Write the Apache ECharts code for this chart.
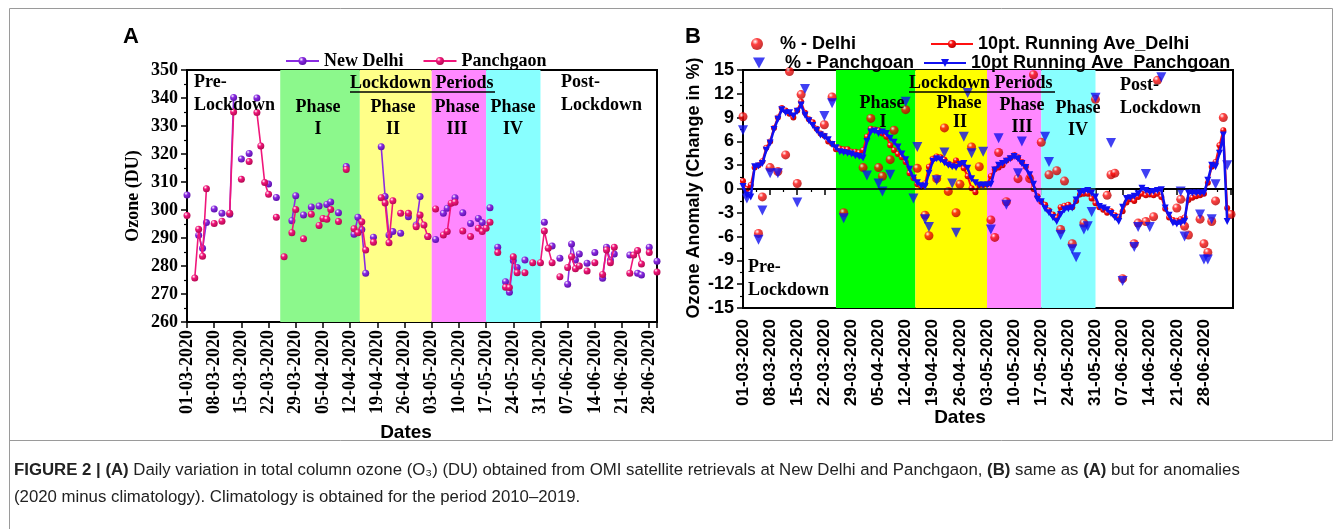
<!DOCTYPE html>
<html>
<head>
<meta charset="utf-8">
<script src="https://cdn.jsdelivr.net/npm/echarts@6/dist/echarts.min.js"></script>
<style>
html, body { margin: 0; padding: 0; background: #fff; }
#main { width: 1342px; height: 529px; }
</style>
</head>
<body>
<div id="main"></div>
<script>
// tick labels, one every 7 days from 01-03-2020 (day 0)
var dateLabels = ['01-03-2020','08-03-2020','15-03-2020','22-03-2020','29-03-2020','05-04-2020',
    '12-04-2020','19-04-2020','26-04-2020','03-05-2020','10-05-2020','17-05-2020','24-05-2020',
    '31-05-2020','07-06-2020','14-06-2020','21-06-2020','28-06-2020'];

// lockdown phases I..IV as [start day, end day]
var phases = [[24, 44.5], [44.5, 63], [63, 77], [77, 91]];

// panel A: total column ozone (DU), [day, value]
var delhiA = [[0,305.4],[3,291],[4,286.3],[5,295.5],[7,300.4],[9,298.8],[11,298.5],[12,340.2],[14,318.2],
    [16,320.2],[18,340],[21,309.3],[23,304.5],[27,296.2],[28,305.1],[30,298.2],[32,301.1],[34,301.4],
    [36,302],[37,302.9],[39,299],[41,315.5],[43,291.3],[44,297.4],[45,293],[46,277.4],[48,290.3],
    [50,322.6],[51,304.8],[52,291.1],[53,292.3],[55,291.7],[57,297.6],[59,294.6],[60,304.8],[62,290.5],
    [64,289.5],[66,298.8],[67,300.6],[69,304.4],[71,299],[73,295.2],[75,297],[76,295.5],[78,300.8],
    [80,286.7],[82,274.4],[83,270.6],[84,282],[85,279.5],[87,282.1],[92,295.6],[94,287.1],[96,282.8],
    [98,273.5],[99,287.9],[100,282.1],[101,284.3],[103,281],[105,284.8],[107,275.6],[108,286.7],
    [109,282.1],[110,284.3],[114,283.9],[116,277.4],[117,276.8],[119,286.7],[121,281.7]];
var panchA = [[0,298],[2,275.7],[3,293.1],[4,283.5],[5,307.6],[7,295.2],[9,296],[11,298.8],[12,335],
    [14,311],[16,317.3],[18,334.8],[19,322.9],[20,309.8],[21,305.6],[23,297.4],[25,283.3],[27,291.9],
    [28,300.2],[30,289.7],[32,298.5],[34,294.5],[35,297],[36,296.7],[37,300.2],[39,295.9],[41,314.5],
    [43,293.3],[44,291.9],[45,295.8],[46,285.7],[48,288.5],[50,304.4],[51,302.5],[52,288.3],[53,303.3],
    [55,298.8],[57,298.8],[59,294],[60,298.2],[61,294.6],[62,290.5],[64,300.4],[66,291.1],[67,292.3],
    [68,302.4],[69,302.8],[71,292.5],[73,290.5],[75,293.5],[76,292.3],[77,293.5],[78,295.6],[80,284.8],
    [82,272.4],[83,272.3],[84,283.3],[85,277.6],[87,277.6],[89,281.2],[91,281.2],[92,292.5],[93,286.3],
    [94,281.2],[96,276.2],[98,279.5],[99,283.3],[100,279],[101,280],[103,278.2],[105,281.2],[107,277],
    [108,285.7],[109,281.2],[110,286.7],[114,277.4],[115,283.9],[116,285.5],[117,280.7],[119,284.8],[121,277.9]];

// panel B: anomaly (%), daily values that stand off the running means, [day, value]
var delhiPct = [[0,9.1],[4,-5.6],[5,-1.0],[7,2.7],[9,2.2],[11,4.3],[12,14.8],[14,0.7],[15,11.9],[21,8.1],
    [23,11.6],[26,-3.0],[31,2.7],[33,8.9],[35,2.7],[36,1.6],[38,3.7],[39,7.4],[42,10.0],[45,2.6],[47,-3.3],
    [48,-5.9],[50,1.3],[52,7.7],[53,-0.3],[55,-3.0],[56,0.6],[59,5.3],[61,2.8],[64,-3.9],[65,-6.1],[66,4.6],
    [68,-1.6],[71,1.3],[74,1.3],[75,14.4],[77,5.9],[79,1.8],[81,2.3],[82,-5.1],[83,1.0],[85,-6.9],[88,-4.3],
    [91,11.3],[94,-0.8],[95,1.8],[96,2.0],[98,-11.3],[101,-6.9],[102,-4.3],[104,-4.1],[106,-3.5],[107,13.7],
    [112,-2.4],[113,-1.3],[114,-4.7],[115,-5.8],[118,-3.8],[119,-6.9],[120,-8.0],[121,-4.1],[122,-1.5],
    [124,9.0],[126,-3.2]];
var panchPct = [[0,7.4],[1,-1.2],[4,-6.4],[5,-2.7],[7,2.0],[9,2.0],[14,-1.7],[16,12.6],[21,9.2],[23,10.8],
    [26,-3.7],[32,1.7],[35,0.7],[36,-0.3],[38,1.8],[42,11.0],[44,-1.2],[45,5.3],[47,-3.8],[48,-4.8],[50,1.1],
    [52,4.6],[54,0.7],[55,-5.5],[57,6.6],[58,12.1],[59,4.5],[62,4.7],[64,-5.1],[66,6.4],[68,-2.0],[71,2.0],
    [72,6.0],[78,6.6],[79,3.4],[82,-5.8],[85,-7.6],[86,-8.6],[88,-5.1],[89,-4.7],[90,-2.9],[91,11.5],[95,5.8],
    [98,-11.6],[101,-7.3],[102,-4.8],[104,1.9],[105,-4.8],[108,14.1],[113,-0.3],[114,-6.0],[118,-3.2],
    [119,-8.9],[120,-8.9],[121,-3.8],[122,0.6],[125,3.0]];

// 10 point running means, one value per day from day 0
var delhiAve = [1.0,0.0,0.5,2.7,3.0,3.5,5.2,6.0,7.7,9.0,10.2,9.9,9.5,9.0,9.9,11.0,9.6,8.8,8.4,7.6,
    7.0,6.7,6.0,5.7,5.0,5.1,5.0,5.0,4.7,4.7,4.6,4.9,6.6,7.6,7.5,7.4,7.0,6.6,5.5,4.9,
    4.4,4.0,3.4,2.0,1.4,0.6,0.3,0.7,2.8,3.8,4.1,4.0,3.7,3.2,3.0,3.6,3.2,2.6,1.6,0.1,
    -0.4,0.5,0.5,0.6,1.6,2.5,2.7,3.0,3.6,3.9,4.3,4.0,3.4,2.8,1.6,0.0,-0.9,-1.6,-2.0,-2.7,
    -3.2,-3.6,-2.3,-2.1,-2.0,-2.3,-1.5,-0.7,-0.6,-0.6,-1.2,-1.8,-2.3,-2.6,-3.0,-2.8,-3.3,-3.5,-2.8,-1.7,
    -1.3,-1.5,-1.0,-0.6,-0.8,-0.7,-0.8,-0.6,-1.0,-2.5,-3.6,-3.9,-4.0,-3.8,-3.6,-1.4,-1.1,-0.9,-0.8,-0.6,
    0.8,2.8,3.4,5.5,7.4,-2.4];
var panchAve = [0.3,-0.8,-1.0,2.8,2.9,3.2,4.9,5.8,7.5,8.8,10.0,9.6,9.6,9.2,9.8,10.6,9.3,8.6,8.0,7.4,
    6.8,6.6,6.2,5.6,5.2,4.7,4.6,4.5,4.4,4.2,4.1,3.9,6.0,7.2,7.3,7.0,7.2,7.0,6.4,5.9,
    5.3,4.4,3.7,2.5,1.4,0.8,0.4,0.3,2.0,3.5,3.8,3.7,3.3,3.0,2.8,2.7,3.1,3.2,2.6,1.3,
    0.8,0.5,0.5,0.5,0.6,2.4,3.0,3.2,3.5,3.8,4.1,3.8,3.2,2.7,1.8,0.6,-1.3,-1.6,-2.5,-3.0,
    -3.6,-4.1,-3.2,-2.6,-2.5,-2.4,-1.4,-0.5,-0.3,-0.2,-0.5,-1.0,-2.2,-2.4,-2.6,-3.1,-3.6,-4.1,-2.3,-1.2,
    -1.1,-0.9,-0.6,0.1,-0.2,-0.4,-0.3,-0.2,-0.1,-2.4,-3.3,-4.3,-4.4,-4.3,-4.1,-0.5,-0.5,-0.5,-0.5,-0.5,
    1.1,3.0,2.8,4.5,6.8,-4.1];

var bandsA = ['#8CF88C', '#FFFF88', '#FF88FF', '#88FFFF'];
var bandsB = ['#00FF00', '#FFFF00', '#FF88FF', '#88FFFF'];

function withGaps(list) {
    var out = [];
    for (var i = 0; i < list.length; i++) {
        if (i > 0 && list[i][0] - list[i - 1][0] > 1) out.push([list[i - 1][0] + 1, null]);
        out.push(list[i]);
    }
    return out;
}
function daily(arr) {
    return arr.map(function (v, i) { return [i, v]; });
}
function ball(c, dark) {
    return { type: 'radial', x: 0.35, y: 0.3, r: 0.75,
        colorStops: [{ offset: 0, color: '#ffffff' }, { offset: 0.35, color: c }, { offset: 1, color: dark }] };
}
function areas(colors) {
    return phases.map(function (p, i) {
        return [{ xAxis: p[0], itemStyle: { color: colors[i] } }, { xAxis: p[1] }];
    });
}

var serif = '"Liberation Serif", "Times New Roman", serif';
var sans = '"Liberation Sans", Arial, sans-serif';
var downTri = 'path://M0,0 L10,0 L5,9 Z';

function ts(family, size, extra) {
    var s = { fontFamily: family, fontSize: size, fontWeight: 'bold', color: '#000' };
    for (var k in extra) s[k] = extra[k];
    return s;
}

function xAxisOf(grid, max, minor, family, size, margin) {
    return {
        type: 'value', gridIndex: grid, min: 0, max: max, interval: 7,
        axisLine: { lineStyle: { color: '#000', width: 2 } },
        axisTick: { length: 6, lineStyle: { color: '#000', width: 1.5 } },
        minorTick: { show: minor, splitNumber: 2, length: 3, lineStyle: { color: '#000', width: 1.2 } },
        splitLine: { show: false },
        axisLabel: ts(family, size, {
            rotate: 90, margin: margin,
            formatter: function (v) { return v % 7 === 0 && dateLabels[v / 7] ? dateLabels[v / 7] : ''; }
        })
    };
}
function yAxisOf(grid, min, max, step, family, size, margin) {
    return {
        type: 'value', gridIndex: grid, min: min, max: max, interval: step,
        axisLine: { show: true, lineStyle: { color: '#000', width: 2 } },
        axisTick: { show: true, length: 6, lineStyle: { color: '#000', width: 1.5 } },
        minorTick: { show: true, splitNumber: 2, length: 3, lineStyle: { color: '#000', width: 1.2 } },
        splitLine: { show: false },
        axisLabel: ts(family, size, { margin: margin })
    };
}

function txt(t, x, y, font, align, rot) {
    return { type: 'text', x: x, y: y, rotation: rot || 0, silent: true, z: 20,
        style: { text: t, font: font, fill: '#000', align: align || 'center', verticalAlign: 'middle' } };
}
function uline(x1, x2, y) {
    return { type: 'line', silent: true, z: 20, shape: { x1: x1, y1: y, x2: x2, y2: y },
        style: { stroke: '#000', lineWidth: 1.5 } };
}

var fA = 'bold 18px ' + serif;
var fB = 'bold 18px ' + sans;

var option = {
    animation: false,
    backgroundColor: '#fff',
    grid: [
        { left: 187, top: 70, width: 470, height: 252, show: true, borderColor: '#000', borderWidth: 2, backgroundColor: 'transparent' },
        { left: 743, top: 70, width: 490, height: 238, show: true, borderColor: '#000', borderWidth: 2, backgroundColor: 'transparent' }
    ],
    xAxis: [
        xAxisOf(0, 121, false, serif, 18, 8),
        xAxisOf(1, 126.5, true, sans, 17, 11)
    ],
    yAxis: [
        yAxisOf(0, 260, 350, 10, serif, 18, 9),
        yAxisOf(1, -15, 15, 3, sans, 18, 9)
    ],
    legend: [
        { data: ['New Delhi', 'Panchgaon'], left: 280, top: 47, itemWidth: 33, itemHeight: 10, itemGap: 19,
          textStyle: ts(serif, 18) },
        { data: ['% - Delhi'], left: 746, top: 30, itemWidth: 12, itemHeight: 12,
          textStyle: ts(sans, 18, { padding: [0, 0, 0, 12] }) },
        { data: ['10pt. Running Ave_Delhi'], left: 925, top: 30, itemWidth: 42, itemHeight: 10,
          textStyle: ts(sans, 18) },
        { data: [{ name: '% - Panchgoan', icon: downTri }], left: 748, top: 49, itemWidth: 12, itemHeight: 11,
          textStyle: ts(sans, 18, { padding: [0, 0, 0, 15] }) },
        { data: ['10pt Running Ave_Panchgoan'], left: 918, top: 49, itemWidth: 42, itemHeight: 10,
          textStyle: ts(sans, 18) }
    ],
    series: [
        { type: 'line', xAxisIndex: 0, yAxisIndex: 0, data: [], silent: true, z: 1,
          markArea: { silent: true, data: areas(bandsA) } },
        { type: 'line', xAxisIndex: 1, yAxisIndex: 1, data: [], silent: true, z: 1,
          markArea: { silent: true, data: areas(bandsB) },
          markLine: { silent: true, symbol: ['none', 'none'], label: { show: false },
              lineStyle: { color: '#000', width: 1.5, type: 'solid' }, data: [{ yAxis: 0 }] } },
        { name: 'New Delhi', type: 'line', xAxisIndex: 0, yAxisIndex: 0, data: withGaps(delhiA), z: 3,
          symbol: 'circle', symbolSize: 7, showAllSymbol: true,
          lineStyle: { color: '#8A2BE2', width: 1.6 }, itemStyle: { color: ball('#8A2BE2', '#5A0FA8') } },
        { name: 'Panchgaon', type: 'line', xAxisIndex: 0, yAxisIndex: 0, data: withGaps(panchA), z: 4,
          symbol: 'circle', symbolSize: 7, showAllSymbol: true,
          lineStyle: { color: '#F0167A', width: 1.6 }, itemStyle: { color: ball('#F0167A', '#B0084E') } },
        { name: '% - Delhi', type: 'scatter', xAxisIndex: 1, yAxisIndex: 1, data: delhiPct, z: 3,
          symbol: 'circle', symbolSize: 9, itemStyle: { color: ball('#FF1010', '#B00000') } },
        { name: '% - Panchgoan', type: 'scatter', xAxisIndex: 1, yAxisIndex: 1, data: panchPct, z: 3,
          symbol: 'triangle', symbolRotate: 180, symbolSize: 10, itemStyle: { color: '#1010F0' } },
        { name: '10pt. Running Ave_Delhi', type: 'line', xAxisIndex: 1, yAxisIndex: 1, data: daily(delhiAve), z: 4,
          symbol: 'circle', symbolSize: 6, showAllSymbol: true,
          lineStyle: { color: '#FF1010', width: 2 }, itemStyle: { color: ball('#FF1010', '#B00000') } },
        { name: '10pt Running Ave_Panchgoan', type: 'line', xAxisIndex: 1, yAxisIndex: 1, data: daily(panchAve), z: 5,
          symbol: 'triangle', symbolRotate: 180, symbolSize: 7, showAllSymbol: true,
          lineStyle: { color: '#1010F0', width: 2.5 }, itemStyle: { color: '#1010F0' } }
    ],
    graphic: [
        { type: 'rect', silent: true, z: 0, shape: { x: 9.5, y: 8.5, width: 1323, height: 432 },
          style: { fill: 'none', stroke: '#9a9a9a', lineWidth: 1 } },
        { type: 'line', silent: true, shape: { x1: 9.5, y1: 440, x2: 9.5, y2: 529 }, style: { stroke: '#9a9a9a', lineWidth: 1 } },
        txt('A', 131, 37, 'bold 22px ' + sans),
        txt('B', 693, 37, 'bold 22px ' + sans),
        // panel A notes
        txt('Ozone (DU)', 133, 196, fA, 'center', Math.PI / 2),
        txt('Dates', 406, 433, 'bold 19px ' + sans),
        txt('Pre-', 194, 82, fA, 'left'),
        txt('Lockdown', 194, 105, fA, 'left'),
        txt('Phase', 318, 107, fA), txt('I', 318, 129, fA),
        txt('Phase', 393, 107, fA), txt('II', 393, 129, fA),
        txt('Phase', 457, 107, fA), txt('III', 457, 129, fA),
        txt('Phase', 513, 107, fA), txt('IV', 513, 129, fA),
        txt('Lockdown Periods', 350, 83, fA, 'left'), uline(350, 495, 92),
        txt('Post-', 561, 82, fA, 'left'),
        txt('Lockdown', 561, 105, fA, 'left'),
        // panel B notes
        txt('Ozone Anomaly (Change in %)', 694, 188, fB, 'center', Math.PI / 2),
        txt('Dates', 960, 418, 'bold 19px ' + sans),
        txt('Phase', 882, 103, fA), txt('I', 883, 122, fA),
        txt('Phase', 959, 103, fA), txt('II', 960, 122, fA),
        txt('Phase', 1022, 105, fA), txt('III', 1022, 127, fA),
        txt('Phase', 1078, 108, fA), txt('IV', 1078, 130, fA),
        txt('Lockdown Periods', 909, 83, fA, 'left'), uline(909, 1055, 92),
        txt('Post-', 1120, 85, fA, 'left'),
        txt('Lockdown', 1120, 108, fA, 'left'),
        txt('Pre-', 748, 267, fA, 'left'),
        txt('Lockdown', 748, 290, fA, 'left'),
        // caption
        { type: 'text', x: 14, y: 470, silent: true,
          style: { text: '{b|FIGURE 2 | (A)} Daily variation in total column ozone (O\u2083) (DU) obtained from OMI satellite retrievals at New Delhi and Panchgaon, {b|(B)} same as {b|(A)} but for anomalies',
              font: '16.8px ' + sans, fill: '#222', verticalAlign: 'middle',
              rich: { b: { font: 'bold 16.8px ' + sans, fill: '#222' } } } },
        { type: 'text', x: 14, y: 497, silent: true,
          style: { text: '(2020 minus climatology). Climatology is obtained for the period 2010\u20132019.',
              font: '16.8px ' + sans, fill: '#222', verticalAlign: 'middle' } }
    ]
};

try {
    var chart = echarts.init(document.getElementById('main'), null, { renderer: 'canvas' });
    chart.setOption(option);
} catch (e) {
    console.warn(e);
}
</script>
</body>
</html>
